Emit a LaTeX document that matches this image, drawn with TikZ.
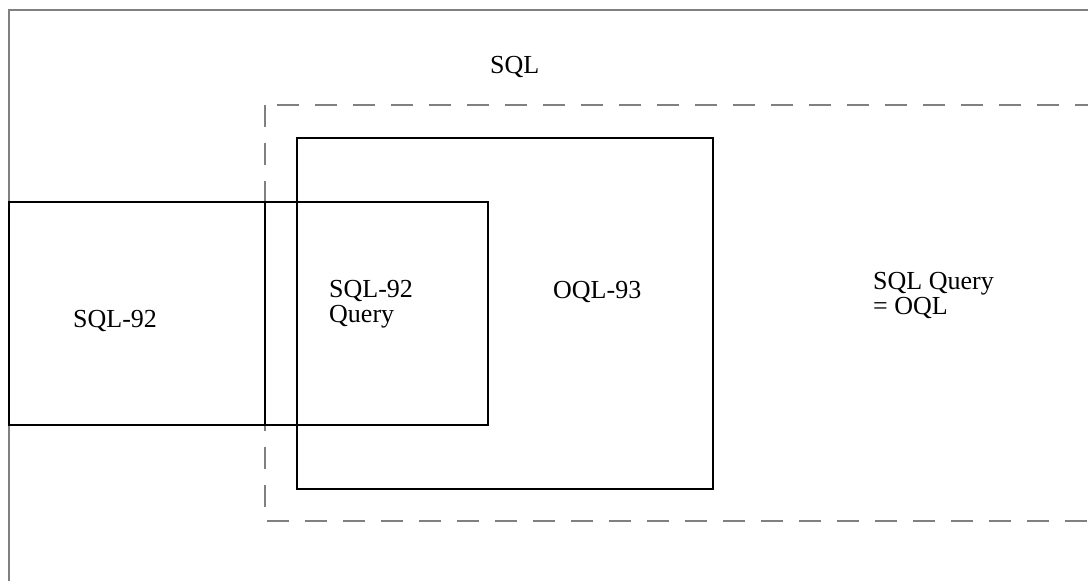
\documentclass[tikz,border=0pt]{standalone}
\usepackage{fontspec}
\setmainfont{Liberation Serif}
\definecolor{framegray}{rgb}{0.5,0.5,0.5}
\begin{document}
\begin{tikzpicture}[x=1pt,y=-1pt,
    frame/.style={draw=framegray, line width=2pt},
    setbox/.style={draw=black, line width=2pt},
    lbl/.style={inner sep=0pt, anchor=base west, align=left}]
    \useasboundingbox (0,0) rectangle (1088,581);
    \clip (0,0) rectangle (1088,581);
    % Outer frame and the dashed region
    \draw[frame] (9,10) rectangle (1120,620);
    \draw[frame, dash pattern=on 22pt off 16pt] (265,105) rectangle (1120,521);
    % Set boxes
    \draw[setbox] (9,202) rectangle (488,425);
    \draw[setbox] (297,138) rectangle (713,489);
    \draw[setbox] (265,202) -- (265,425);
    % Add labels
    \node[lbl, font=\fontsize{26}{25}\selectfont] (sql) at (490,73) {SQL};
    \node[lbl, font=\fontsize{26}{25}\selectfont] (sql92) at (73,327) {SQL-92};
    \node[lbl, font=\fontsize{26}{25}\selectfont] (query) at (329,322) {SQL-92\\Query};
    \node[lbl, font=\fontsize{26}{25}\selectfont] (oql) at (553,298) {OQL-93};
    \node[lbl, font=\fontsize{26}{25}\selectfont] (same) at (873,314) {SQL Query\\= OQL};
\end{tikzpicture}
\end{document}
